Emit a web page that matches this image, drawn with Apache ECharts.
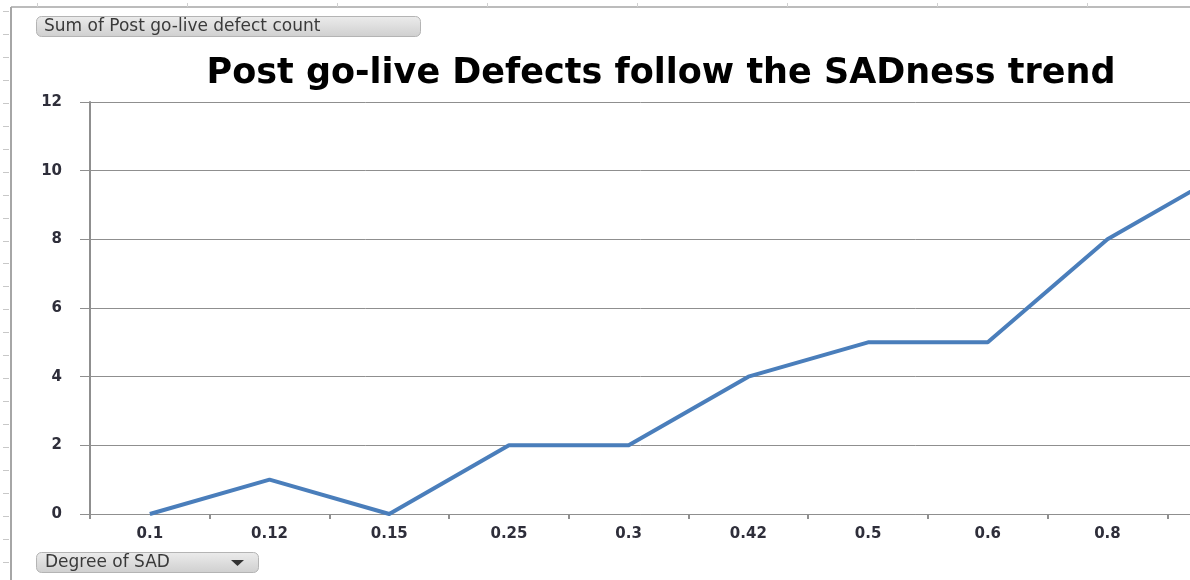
<!DOCTYPE html>
<html>
<head>
<meta charset="utf-8">
<script src="https://cdn.jsdelivr.net/npm/echarts@6/dist/echarts.min.js"></script>
<style>
html,body{margin:0;padding:0;background:#fff;}
#chart{width:1190px;height:580px;}
</style>
</head>
<body>
<div id="chart"></div>
<script>
var categories = ['0.1', '0.12', '0.15', '0.25', '0.3', '0.42', '0.5', '0.6', '0.8', '0.9'];
var defectCounts = [0, 1, 0, 2, 2, 4, 5, 5, 8, 10];
var yTicks = [0, 2, 4, 6, 8, 10, 12];
var titleText = 'Post go-live Defects follow the SADness trend';
var valueButtonText = 'Sum of Post go-live defect count';
var axisButtonText = 'Degree of SAD';

var font = 'DejaVu Sans';
var chart = echarts.init(document.getElementById('chart'), null, {renderer: 'canvas'});

var deco = [];
// worksheet frame
deco.push({type: 'line', shape: {x1: 11, y1: 7, x2: 11, y2: 580}, style: {stroke: '#a6a6a6', lineWidth: 2}, z: 1});
deco.push({type: 'line', shape: {x1: 11, y1: 7, x2: 1190, y2: 7}, style: {stroke: '#a6a6a6', lineWidth: 1.5}, z: 1});
for (var r = 0; r < 25; r++) {
  var yy = Math.round(11 + r * 22.95) + 0.5;
  deco.push({type: 'line', shape: {x1: 3, y1: yy, x2: 9, y2: yy}, style: {stroke: '#c8c8c8', lineWidth: 1}, z: 1});
}
for (var c = 0; c < 8; c++) {
  var xx = 37 + c * 150 + 0.5;
  deco.push({type: 'line', shape: {x1: xx, y1: 3, x2: xx, y2: 7}, style: {stroke: '#d0d0d0', lineWidth: 1}, z: 1});
}
function btnFill() {
  return new echarts.graphic.LinearGradient(0, 0, 0, 1, [
    {offset: 0, color: '#ececec'}, {offset: 1, color: '#cfcfcf'}
  ]);
}
deco.push({type: 'rect', shape: {x: 36.5, y: 16.5, width: 384, height: 20, r: 5}, style: {fill: btnFill(), stroke: '#b4b4b4', lineWidth: 1}, z: 2});
deco.push({type: 'text', x: 44, y: 27, style: {text: valueButtonText, font: '17px "' + font + '"', fill: '#3a3a3a', verticalAlign: 'middle', align: 'left'}, z: 3});
deco.push({type: 'rect', shape: {x: 36.5, y: 552.5, width: 222, height: 20, r: 5}, style: {fill: btnFill(), stroke: '#b4b4b4', lineWidth: 1}, z: 2});
deco.push({type: 'text', x: 45, y: 563, style: {text: axisButtonText, font: '17px "' + font + '"', fill: '#3a3a3a', verticalAlign: 'middle', align: 'left'}, z: 3});
deco.push({type: 'polygon', shape: {points: [[231, 560], [244, 560], [237.5, 566]]}, style: {fill: '#333'}, z: 3});

var option = {
  animation: false,
  backgroundColor: '#ffffff',
  title: {
    text: titleText,
    left: 656,
    textAlign: 'center',
    top: 51,
    textStyle: {fontFamily: font, fontWeight: 'bold', fontSize: 35, color: '#000'}
  },
  grid: {left: 90, top: 102, bottom: 66, right: -97, containLabel: false, outerBoundsMode: 'none'},
  xAxis: {
    type: 'category',
    data: categories,
    boundaryGap: true,
    axisLine: {show: true, lineStyle: {color: '#8f8f8f', width: 1}},
    axisTick: {show: true, alignWithLabel: false, length: 5, inside: false, lineStyle: {color: '#8f8f8f', width: 2}},
    axisLabel: {fontFamily: font, fontSize: 15, fontWeight: 'bold', color: '#2e2e3a', margin: 13, interval: 0},
    splitLine: {show: false}
  },
  yAxis: {
    type: 'value',
    min: yTicks[0],
    max: yTicks[yTicks.length - 1],
    interval: 2,
    axisLine: {show: true, lineStyle: {color: '#8f8f8f', width: 2}},
    axisTick: {show: true, length: 10, lineStyle: {color: '#8f8f8f', width: 1}},
    axisLabel: {fontFamily: font, fontSize: 15, fontWeight: 'bold', color: '#2e2e3a', margin: 28},
    splitLine: {show: true, lineStyle: {color: '#8f8f8f', width: 1}}
  },
  series: [{
    type: 'line',
    data: defectCounts,
    showSymbol: false,
    symbol: 'none',
    smooth: false,
    lineStyle: {color: '#4a7ebb', width: 4, join: 'round'},
    z: 5
  }],
  graphic: deco
};
chart.setOption(option);
</script>
</body>
</html>
